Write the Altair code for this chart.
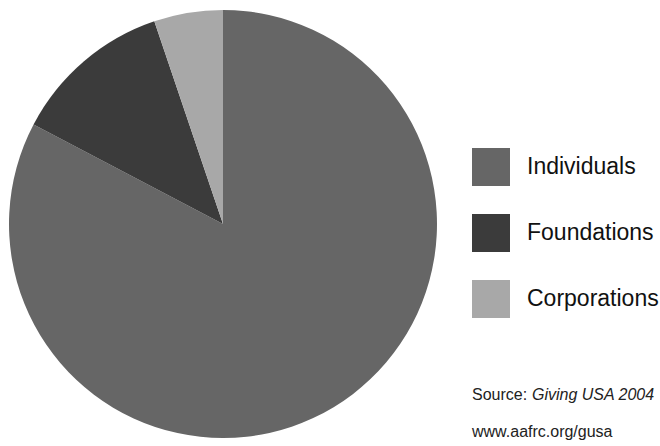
import altair as alt
import pandas as pd

# Sources of charitable giving (share of total, %)
categories = ["Individuals", "Foundations", "Corporations"]
shares = [82.7, 12.1, 5.2]
colors = ["#666666", "#3b3b3b", "#a8a8a8"]

source_label = "Source:"
source_title = "Giving USA 2004"
source_url = "www.aafrc.org/gusa"

FONT = "Liberation Sans, Arial, Helvetica, sans-serif"

df = pd.DataFrame({
    "category": categories,
    "share": shares,
    "order": list(range(len(categories))),
})

pie = alt.Chart(df).mark_arc(radius=214, stroke=None).encode(
    theta=alt.Theta("share:Q", stack=True),
    order=alt.Order("order:Q"),
    color=alt.Color(
        "category:N",
        sort=categories,
        scale=alt.Scale(domain=categories, range=colors),
        legend=alt.Legend(
            title=None,
            orient="none",
            legendX=472,
            legendY=148,
            padding=0,
            symbolType="square",
            symbolSize=1444,
            symbolStrokeWidth=0,
            symbolOpacity=1,
            labelFont=FONT,
            labelFontSize=23,
            labelColor="#111111",
            labelOffset=17,
            rowPadding=28,
            labelLimit=300,
        ),
    ),
    x=alt.value(223),
    y=alt.value(224),
)

notes = pd.DataFrame({"dummy": [0]})

src1 = alt.Chart(notes).mark_text(
    text=source_label, font=FONT, fontSize=16, align="left", baseline="alphabetic",
    color="#222222",
).encode(x=alt.value(472), y=alt.value(400))

src2 = alt.Chart(notes).mark_text(
    text=source_title, font=FONT, fontSize=16, fontStyle="italic", align="left",
    baseline="alphabetic", color="#222222",
).encode(x=alt.value(532), y=alt.value(400))

src3 = alt.Chart(notes).mark_text(
    text=source_url, font=FONT, fontSize=16, align="left", baseline="alphabetic",
    color="#222222",
).encode(x=alt.value(472), y=alt.value(437))

chart = alt.layer(pie, src1, src2, src3).properties(
    width=660,
    height=446,
    padding=0,
    autosize=alt.AutoSizeParams(type="none"),
    background="white",
).configure_view(stroke=None)

chart.save("out.html", embed_options={"renderer": "svg", "actions": False})
